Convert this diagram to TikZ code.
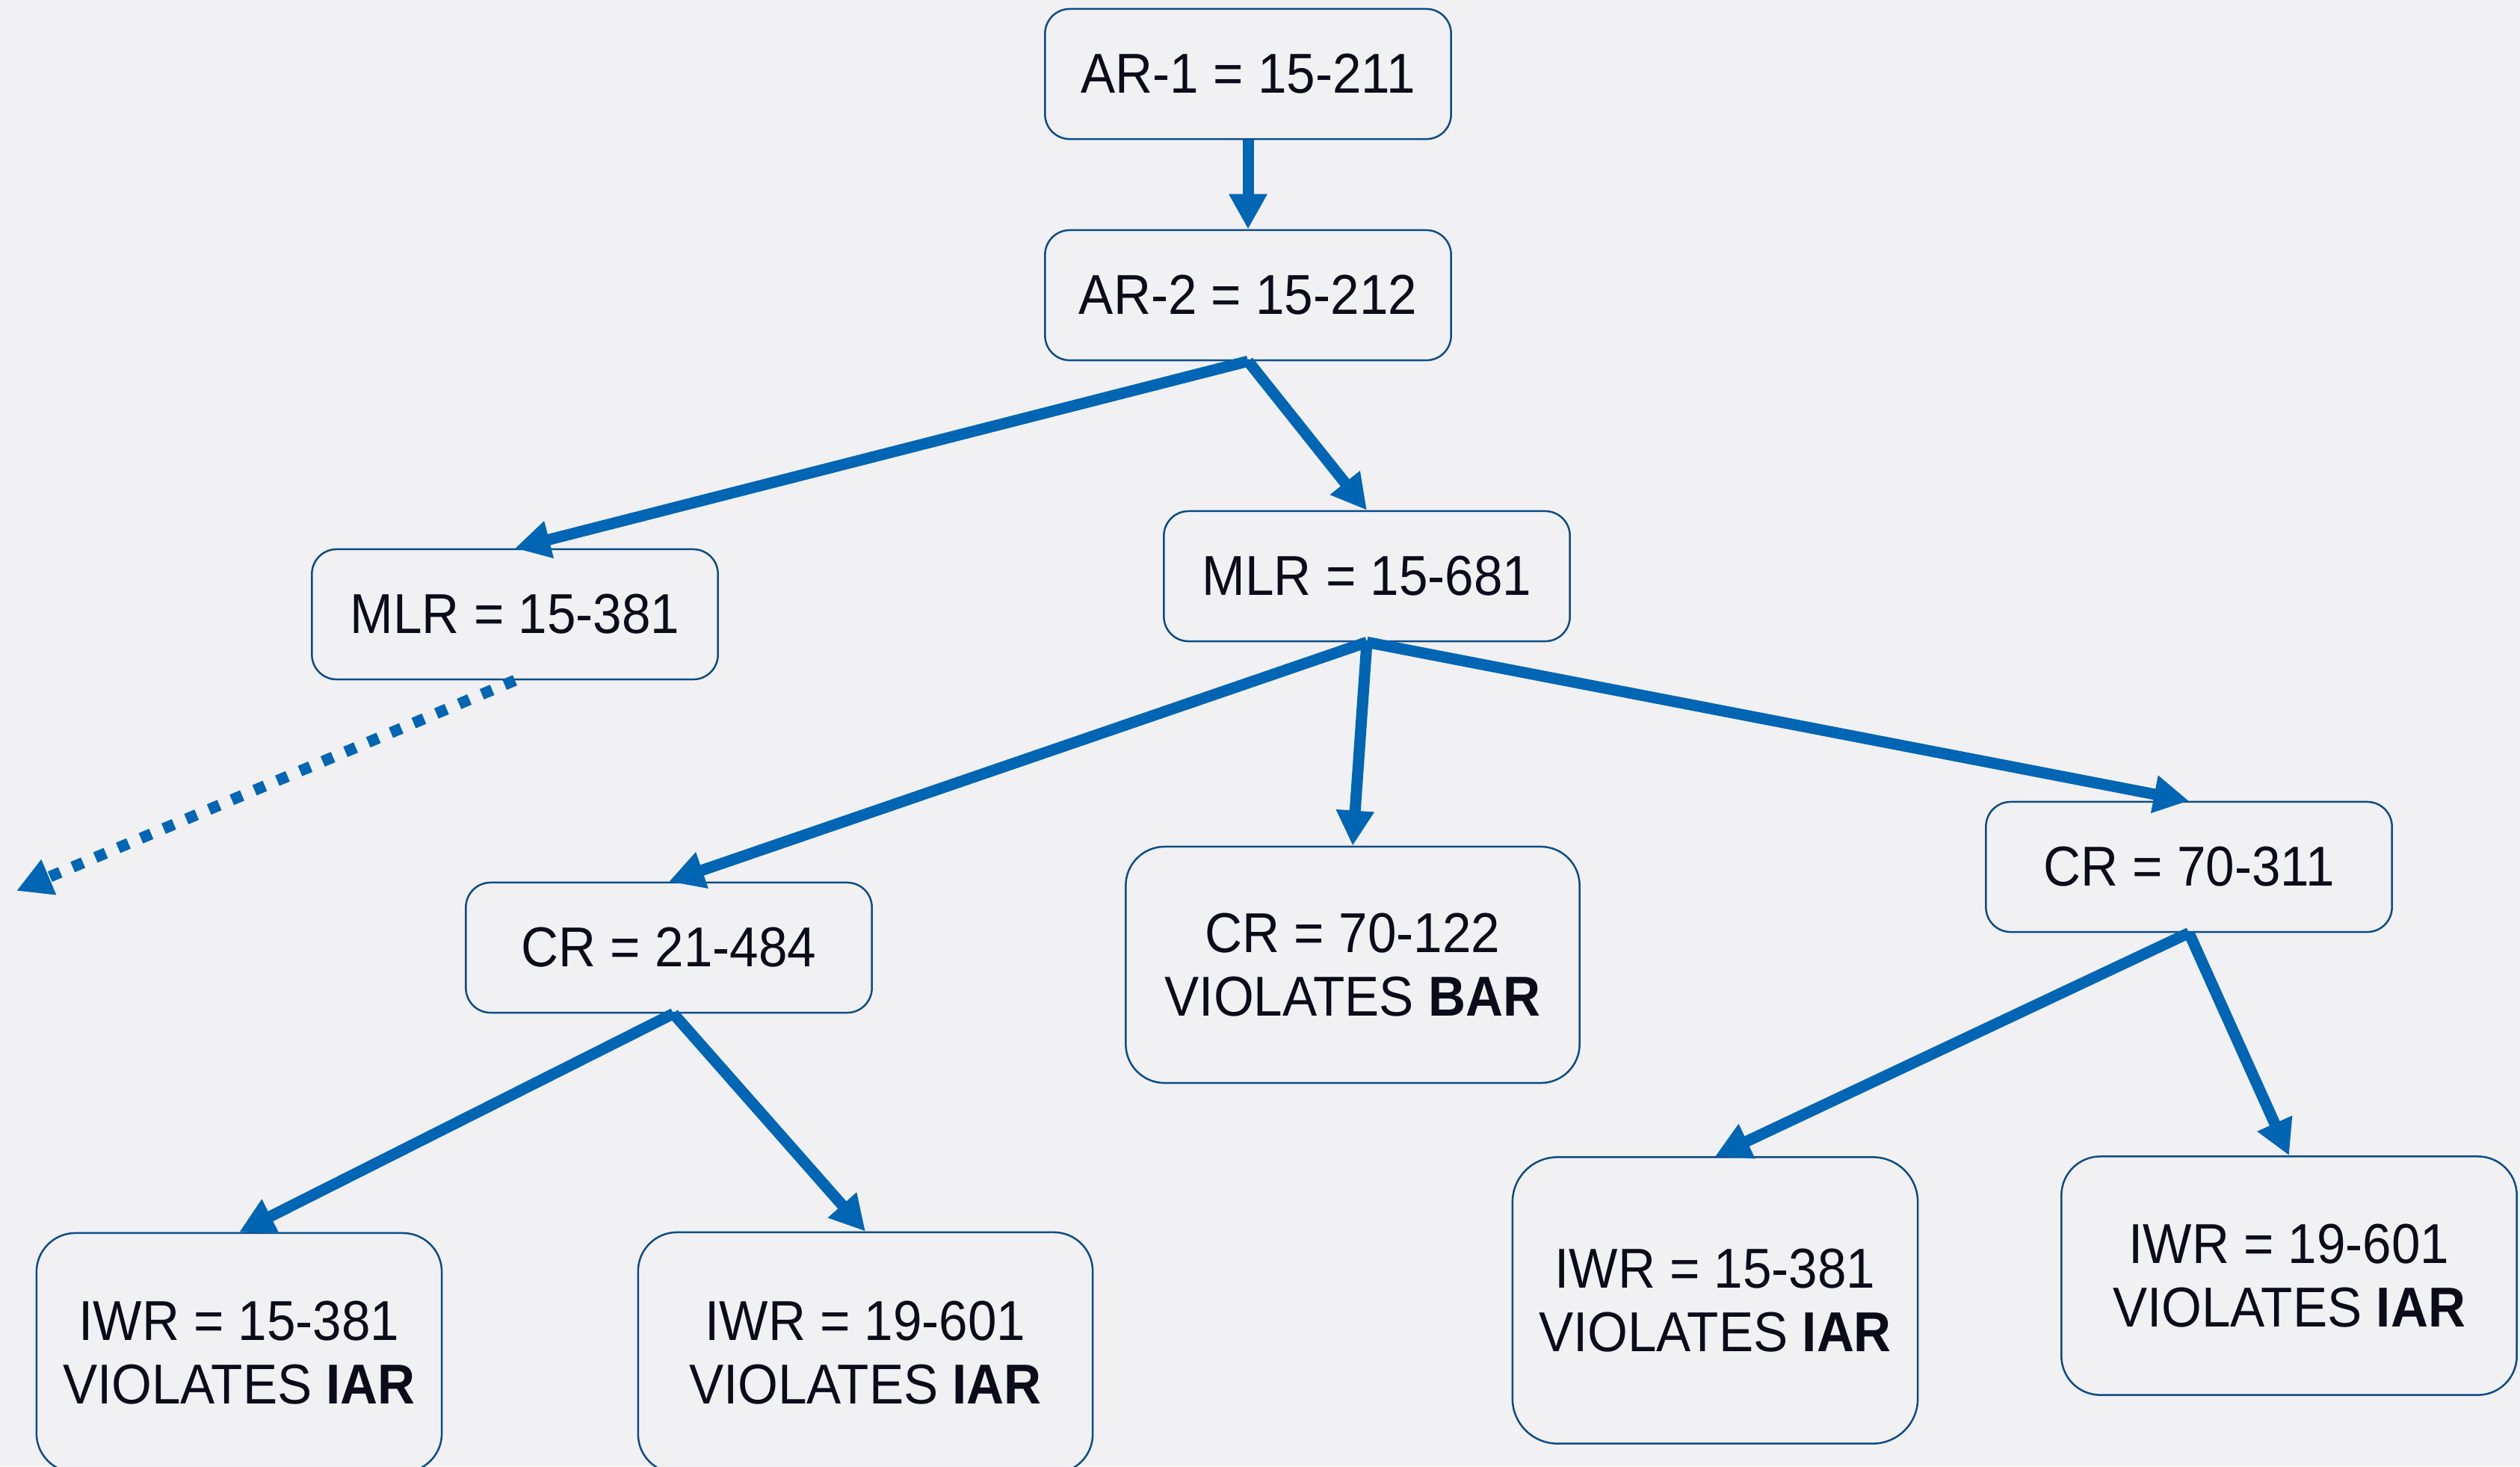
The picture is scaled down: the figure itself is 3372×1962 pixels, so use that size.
\documentclass[tikz,border=0pt]{standalone}
\usepackage{fontspec}
\setmainfont{Liberation Sans}[FakeStretch=0.92]
\usetikzlibrary{arrows.meta}
\definecolor{bgc}{HTML}{F1F1F4}
\definecolor{edgec}{HTML}{0066B3}
\definecolor{boxc}{HTML}{0E4C85}
\definecolor{txtc}{HTML}{0B0B1A}
\begin{document}
\begin{tikzpicture}[x=0.01cm,y=-0.01cm,
  box/.style={draw=boxc, line width=0.025cm, fill=bgc, text=txtc,
    font=\fontsize{21.4}{24.4}\selectfont, align=center, inner sep=0pt},
  sbox/.style={box, rounded corners=0.33cm, minimum width=5.43cm, minimum height=1.74cm},
  tbox/.style={box, rounded corners=0.52cm},
  conn/.style={draw=edgec, line width=0.15cm, -{Triangle[length=0.47cm,width=0.48cm]}},
  dconn/.style={conn, dash pattern=on 0.15cm off 0.18cm}]
\clip (0,0) rectangle (3372,1962);
\fill[bgc] (0,0) rectangle (3372,1962);

\node[sbox] (ar1) at (1670,99) {AR-1 = 15-211};
\node[sbox] (ar2) at (1670,395) {AR-2 = 15-212};
\node[sbox] (mlrA) at (689,822) {MLR = 15-381};
\node[sbox] (mlrB) at (1829,771) {MLR = 15-681};
\node[sbox] (crA) at (895,1268) {CR = 21-484};
\node[tbox, minimum width=6.07cm, minimum height=3.16cm] (crB) at (1810,1291) {CR = 70-122\\VIOLATES \textbf{BAR}};
\node[sbox] (crC) at (2929,1160) {CR = 70-311};
\node[tbox, minimum width=5.42cm, minimum height=3.2cm] (iwrA) at (320,1810) {IWR = 15-381\\VIOLATES \textbf{IAR}};
\node[tbox, minimum width=6.08cm, minimum height=3.22cm] (iwrB) at (1158,1810) {IWR = 19-601\\VIOLATES \textbf{IAR}};
\node[tbox, rounded corners=0.6cm, minimum width=5.42cm, minimum height=3.83cm] (iwrC) at (2295,1740) {IWR = 15-381\\VIOLATES \textbf{IAR}};
\node[tbox, minimum width=6.09cm, minimum height=3.19cm] (iwrD) at (3063,1707) {IWR = 19-601\\VIOLATES \textbf{IAR}};
\coordinate (away) at (22,1192);

\draw[conn] (ar1.south) -- (ar2.north);
\draw[conn] (ar2.south) -- (mlrA.north);
\draw[conn] (ar2.south) -- (mlrB.north);
\draw[dconn] (mlrA.south) -- (away);
\draw[conn] (mlrB.south) -- (crA.north);
\draw[conn] (mlrB.south) -- (crB.north);
\draw[conn] (mlrB.south) -- (crC.north);
\draw[conn] ([xshift=0.06cm]crA.south) -- (iwrA.north);
\draw[conn] ([xshift=0.06cm]crA.south) -- (iwrB.north);
\draw[conn] (crC.south) -- (iwrC.north);
\draw[conn] (crC.south) -- (iwrD.north);
\end{tikzpicture}
\end{document}
